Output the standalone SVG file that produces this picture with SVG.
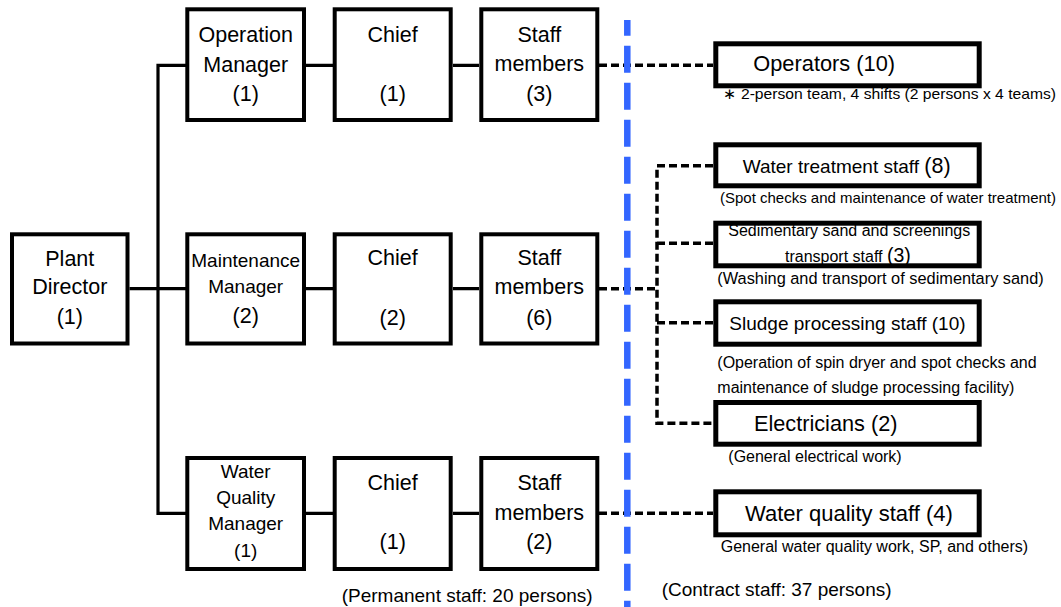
<svg xmlns="http://www.w3.org/2000/svg" width="1061" height="607" viewBox="0 0 1061 607">
<style>
text{font-family:"Liberation Sans",Arial,sans-serif;fill:#000}
.m{font-size:21.5px;text-anchor:middle}
.s{font-size:19px;text-anchor:middle}
.r{font-size:19px}
.n{font-size:16px}
.box{fill:#fff;stroke:#000;stroke-width:4}
.rbox{fill:#fff;stroke:#000;stroke-width:5}
.solid{fill:none;stroke:#000;stroke-width:3.2}
.dash{fill:none;stroke:#000;stroke-width:3.5;stroke-dasharray:8 4}
</style>
<rect width="1061" height="607" fill="#fff"/>
<g id="connectors">
<path class="solid" d="M187.3 65.3H158V513.3H187.3M129.5 288.7H187.3M306 65.3H333M453 65.3H479M306 288.7H333M453 288.7H479M306 513.3H333M453 513.3H479"/>
<path class="dash" d="M599 65.3H713M599 288.7H657M599 513.3H713"/>
<path class="dash" d="M713 165.7H657V423.3H713M657 243.3H713M657 322.7H713"/>
</g>
<line id="divider" x1="627.3" y1="20" x2="627.3" y2="607" stroke="#3366ff" stroke-width="6.5" stroke-dasharray="27 10" stroke-dashoffset="11.3"/>
<g id="director"><rect class="box" x="12" y="234.3" width="115.5" height="109.2"/><text class="m" x="69.8" y="265.7">Plant</text><text class="m" x="69.8" y="294.3">Director</text><text class="m" x="69.8" y="323.5">(1)</text></g>
<g id="opmgr"><rect class="box" x="187.3" y="9.3" width="116.7" height="110.7"/><text class="m" x="245.7" y="42.3">Operation</text><text class="m" x="245.7" y="71.5">Manager</text><text class="m" x="245.7" y="100.5">(1)</text></g>
<g id="chief1"><rect class="box" x="334.7" y="9.3" width="116" height="110.7"/><text class="m" x="392.7" y="42.3">Chief</text><text class="m" x="392.7" y="101">(1)</text></g>
<g id="staff1"><rect class="box" x="481.3" y="9.3" width="116" height="110.7"/><text class="m" x="539.3" y="42.3">Staff</text><text class="m" x="539.3" y="70.7">members</text><text class="m" x="539.3" y="101">(3)</text></g>
<g id="maintmgr"><rect class="box" x="187.3" y="234.3" width="116.7" height="109.2"/><text class="s" x="245.7" y="266.5">Maintenance</text><text class="s" x="245.7" y="292.7">Manager</text><text class="m" x="245.7" y="323.3">(2)</text></g>
<g id="chief2"><rect class="box" x="334.7" y="234.3" width="116" height="109.2"/><text class="m" x="392.7" y="265">Chief</text><text class="m" x="392.7" y="325">(2)</text></g>
<g id="staff2"><rect class="box" x="481.3" y="234.3" width="116" height="109.2"/><text class="m" x="539.3" y="265">Staff</text><text class="m" x="539.3" y="294.3">members</text><text class="m" x="539.3" y="325">(6)</text></g>
<g id="wqmgr"><rect class="box" x="187.3" y="458" width="116.7" height="111"/><text class="s" x="245.7" y="478.3">Water</text><text class="s" x="245.7" y="504">Quality</text><text class="s" x="245.7" y="530">Manager</text><text class="s" x="245.7" y="556.7" font-size="20.5">(1)</text></g>
<g id="chief3"><rect class="box" x="334.7" y="458" width="116" height="111"/><text class="m" x="392.7" y="490">Chief</text><text class="m" x="392.7" y="549">(1)</text></g>
<g id="staff3"><rect class="box" x="481.3" y="458" width="116" height="111"/><text class="m" x="539.3" y="490">Staff</text><text class="m" x="539.3" y="520">members</text><text class="m" x="539.3" y="549">(2)</text></g>
<g id="operators"><rect class="rbox" x="715.8" y="43.8" width="263.4" height="42"/><text x="753.3" y="71" font-size="21.8">Operators (10)</text><text x="723" y="99" font-size="15" textLength="333" lengthAdjust="spacingAndGlyphs">∗ 2-person team, 4 shifts (2 persons x 4 teams)</text></g>
<g id="watertreat"><rect class="rbox" x="715.8" y="144.8" width="263.4" height="41"/><text class="r" x="742.7" y="172.7">Water treatment staff <tspan font-size="21.5">(8)</tspan></text><text x="720" y="203.3" font-size="15">(Spot checks and maintenance of water treatment)</text></g>
<g id="sediment"><rect class="rbox" x="715.8" y="223.2" width="263.4" height="42.6"/><text class="n" x="728.3" y="235.7">Sedimentary sand and screenings</text><text class="n" x="785" y="261.7">transport staff <tspan font-size="19.5">(3)</tspan></text><text x="717.3" y="284" font-size="16.35">(Washing and transport of sedimentary sand)</text></g>
<g id="sludge"><rect class="rbox" x="715.8" y="301.8" width="263.4" height="42.4"/><text class="r" x="729.3" y="330">Sludge processing staff (10)</text><text class="n" x="717.3" y="368.3">(Operation of spin dryer and spot checks and</text><text class="n" x="717.3" y="392.7">maintenance of sludge processing facility)</text></g>
<g id="electricians"><rect class="rbox" x="715.8" y="402.5" width="263.4" height="41.7"/><text x="754" y="430.7" font-size="21.7">Electricians (2)</text><text class="n" x="728.3" y="462.3">(General electrical work)</text></g>
<g id="wqstaff"><rect class="rbox" x="715.8" y="491.8" width="263.4" height="43"/><text x="745" y="520.7" font-size="22">Water quality staff (4)</text><text class="n" x="720.7" y="551.7">General water quality work, SP, and others)</text></g>
<text x="341.7" y="601.5" font-size="19">(Permanent staff: 20 persons)</text>
<text x="661.7" y="596" font-size="19">(Contract staff: 37 persons)</text>
</svg>
